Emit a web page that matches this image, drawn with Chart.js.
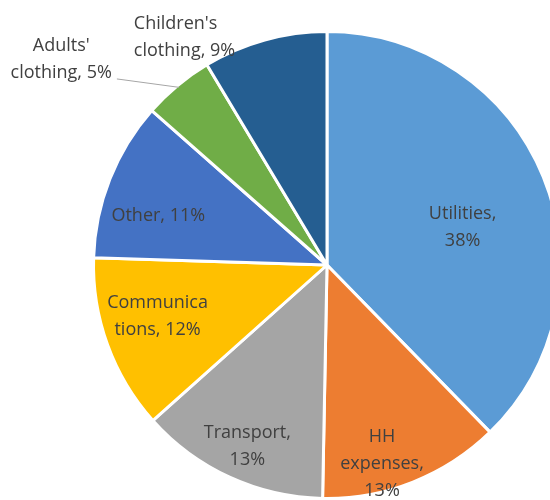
<!DOCTYPE html>
<html>
<head>
<meta charset="utf-8">
<script src="https://cdn.jsdelivr.net/npm/chart.js@4"></script>
<style>
  html, body { margin: 0; padding: 0; background: #fff; overflow: hidden; }
  #wrap { width: 550px; height: 500px; overflow: hidden; position: relative; }
  canvas { position: absolute; left: 0; top: 0; }
</style>
</head>
<body>
<div id="wrap">
  <canvas id="spending" width="654" height="530"></canvas>
</div>
<script>
  const categories = ['Utilities', 'HH expenses', 'Transport', 'Communications', 'Other', "Adults' clothing", "Children's clothing"];
  const shares = [37.7, 12.6, 13.1, 12.1, 11.0, 4.9, 8.6];
  const sliceColors = ['#5B9BD5', '#ED7D31', '#A5A5A5', '#FFC000', '#4472C4', '#70AD47', '#255E91'];

  // where each label sits, relative to its slice (radius factor, angle nudge in degrees)
  const labelPlace = [
    { f: 0.603, da: 6.5, maxW: 105 },
    { f: 0.882, da: 6.1, maxW: 105 },
    { f: 0.85, da: -1, maxW: 105 },
    { f: 0.758, da: 3.2, maxW: 105 },
    { f: 0.752, da: -5.5, maxW: 105 },
    { f: 1.439, da: -12.5, maxW: 112, leader: true },
    { f: 1.149, da: -16.6, maxW: 112, left: true }
  ];

  const labelFont = '18px "Open Sans"';
  const lineH = 27;

  function wrapText(ctx, text, maxW) {
    const words = text.split(' ');
    const lines = [];
    let cur = '';
    words.forEach(w => {
      const test = cur ? cur + ' ' + w : w;
      if (ctx.measureText(test).width <= maxW) {
        cur = test;
        return;
      }
      if (cur) lines.push(cur);
      cur = w;
      // word alone too long: break it by characters
      while (ctx.measureText(cur).width > maxW) {
        let i = cur.length;
        while (i > 1 && ctx.measureText(cur.slice(0, i)).width > maxW) i--;
        lines.push(cur.slice(0, i));
        cur = cur.slice(i);
      }
    });
    if (cur) lines.push(cur);
    return lines;
  }

  const sliceLabels = {
    id: 'sliceLabels',
    afterDatasetsDraw(chart) {
      const ctx = chart.ctx;
      const arcs = chart.getDatasetMeta(0).data;
      const total = shares.reduce((a, b) => a + b, 0);
      ctx.save();
      ctx.font = labelFont;
      ctx.fillStyle = '#404040';
      ctx.textBaseline = 'middle';
      arcs.forEach((arc, i) => {
        const p = arc.getProps(['x', 'y', 'startAngle', 'endAngle', 'outerRadius']);
        const mid = (p.startAngle + p.endAngle) / 2;
        const a = mid + labelPlace[i].da * Math.PI / 180;
        const r = p.outerRadius * labelPlace[i].f;
        const cx = p.x + Math.cos(a) * r;
        const cy = p.y + Math.sin(a) * r;
        const pct = Math.round(shares[i] / total * 100);
        const lines = wrapText(ctx, categories[i] + ', ' + pct + '%', labelPlace[i].maxW);
        const wMax = Math.max(...lines.map(l => ctx.measureText(l).width));
        const top = cy - (lines.length - 1) * lineH / 2;
        if (labelPlace[i].left) {
          ctx.textAlign = 'left';
          lines.forEach((ln, k) => ctx.fillText(ln, cx - wMax / 2, top + k * lineH));
        } else {
          ctx.textAlign = 'center';
          lines.forEach((ln, k) => ctx.fillText(ln, cx, top + k * lineH));
        }

        if (labelPlace[i].leader) {
          const ex = p.x + Math.cos(mid) * p.outerRadius * 0.99;
          const ey = p.y + Math.sin(mid) * p.outerRadius * 0.99;
          ctx.beginPath();
          ctx.strokeStyle = '#A6A6A6';
          ctx.lineWidth = 1;
          ctx.moveTo(cx + wMax / 2 + 5, top + (lines.length - 1) * lineH + 6);
          ctx.lineTo(ex, ey);
          ctx.stroke();
        }
      });
      ctx.restore();
    }
  };

  const el = document.getElementById('spending');

  new Chart(el, {
    type: 'pie',
    data: {
      labels: categories,
      datasets: [{
        data: shares,
        backgroundColor: sliceColors,
        borderColor: '#ffffff',
        borderWidth: 3
      }]
    },
    options: {
      responsive: false,
      animation: false,
      layout: {
        padding: { left: 92, right: 92, top: 30, bottom: 30 }
      },
      plugins: {
        legend: { display: false },
        tooltip: { enabled: false }
      }
    },
    plugins: [sliceLabels]
  });
</script>
</body>
</html>
